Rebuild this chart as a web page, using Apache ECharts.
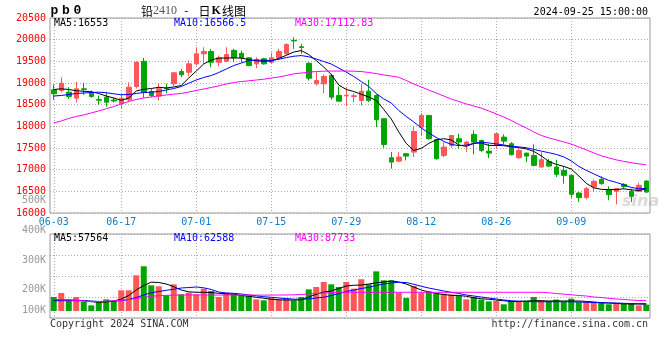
<!DOCTYPE html>
<html><head><meta charset="utf-8">
<script src="https://cdn.jsdelivr.net/npm/echarts@6/dist/echarts.min.js"></script>
<style>html,body{margin:0;padding:0;background:#fff}#c{width:660px;height:360px}</style>
</head><body><div id="c"></div>
<script>
const dates = ['06-03','06-04','06-05','06-06','06-07','06-11','06-12','06-13','06-14','06-17','06-18','06-19','06-20','06-21','06-24','06-25','06-26','06-27','06-28','07-01','07-02','07-03','07-04','07-05','07-08','07-09','07-10','07-11','07-12','07-15','07-16','07-17','07-18','07-19','07-22','07-23','07-24','07-25','07-26','07-29','07-30','07-31','08-01','08-02','08-05','08-06','08-07','08-08','08-09','08-12','08-13','08-14','08-15','08-16','08-19','08-20','08-21','08-22','08-23','08-26','08-27','08-28','08-29','08-30','09-02','09-03','09-04','09-05','09-06','09-09','09-10','09-11','09-12','09-13','09-18','09-19','09-20','09-23','09-24','09-25'];
const tickLabels = ['06-03','06-17','07-01','07-15','07-29','08-12','08-26','09-09'];
const volTickLabels = ['500K','400K','300K','200K','100K'];
const symbolChars = ['p','b','0'];

const opens  = [18843,18827,18788,18650,18866,18774,18620,18673,18608,18521, 18613,18919,19500,18804,18696,18885,18981,19265,19249,19442, 19673,19726,19479,19502,19749,19686,19580,19442,19557,19479, 19580,19673,19986,19836,19456,18981,18981,19173,18712,18705, 18689,18597,18811,18712,18175,17276,17198,17368,17405,17981, 18251,17691,17329,17560,17714,17583,17813,17675,17428,17560, 17751,17599,17276,17382,17329,17060,17191,17060,16984,16869, 16461,16355,16599,16776,16539,16500,16661,16500,16500,16737];
const closes = [18751,18995,18689,18866,18850,18689,18603,18557,18585,18650, 18903,19479,18780,18712,18866,18873,19235,19189,19442,19673, 19726,19479,19580,19656,19580,19580,19403,19541,19442,19580, 19726,19887,19972,19818,19110,19057,19150,18673,18580,18719, 18705,18811,18597,18152,17583,17175,17290,17313,17882,18251, 17714,17253,17521,17790,17636,17636,17636,17445,17382,17829, 17659,17345,17445,17313,17099,17230,17083,16892,16869,16431, 16355,16562,16730,16677,16424,16562,16608,16385,16638,16484];
const lows   = [18613,18781,18636,18551,18728,18659,18498,18452,18551,18405, 18557,18873,18659,18673,18597,18765,18926,19133,19157,19403, 19442,19364,19387,19479,19479,19479,19387,19341,19426,19442, 19534,19650,19788,19673,19057,18942,18765,18613,18580,18458, 18557,18481,18557,17981,17507,17023,17175,17214,17290,17790, 17691,17230,17290,17507,17484,17405,17357,17405,17267,17484, 17583,17329,17253,17175,17076,17060,17060,16829,16677,16355, 16253,16316,16484,16654,16293,16200,16562,16253,16500,16461];
const highs  = [18965,19133,18903,19030,19005,18827,18712,18781,18666,18751, 19018,19500,19581,18866,18995,18981,19249,19327,19518,19825, 19825,19788,19633,19825,19788,19749,19594,19594,19580,19696, 19788,19917,20055,19903,19479,19249,19196,19212,18919,18889, 18765,18981,19073,18735,18182,17405,17405,17382,17998,18304, 18258,17714,17636,17790,17829,17659,17906,17691,17599,17843, 17813,17636,17521,17387,17583,17405,17253,17230,17076,16892, 16484,16599,16776,16845,16615,16576,16691,16562,16700,16753];

const ma5  = [18850,18866,18850,18822,18809,18797,18758,18700,18654,18601, 18654,18815,18855,18873,18901,18885,18908,18942,19115,19276, 19438,19530,19576,19576,19580,19576,19541,19511,19502,19507, 19569,19638,19714,19749,19656,19518,19368,19196,18954,18850, 18804,18739,18677,18597,18389,18170,17871,17606,17445,17491, 17606,17687,17714,17687,17571,17537,17606,17617,17560,17560, 17553,17530,17509,17479,17422,17318,17191,17122,17076,17014, 16857,16684,16581,16546,16539,16541,16558,16535,16520,16553];
const ma10 = [18700,18712,18735,18758,18769,18781,18788,18776,18751,18728, 18735,18758,18781,18788,18804,18838,18873,18919,18995,19069, 19127,19173,19242,19322,19403,19461,19514,19530,19525,19518, 19548,19587,19617,19633,19606,19553,19495,19438,19345,19253, 19150,19034,18919,18758,18631,18539,18366,18228,18101,17963, 17848,17744,17652,17583,17555,17567,17606,17636,17617,17594, 17571,17541,17525,17507,17468,17428,17392,17352,17295,17203, 17076,16984,16903,16823,16753,16707,16650,16590,16560,16566.5];
const ma30 = [18078,18124,18182,18228,18263,18309,18355,18405,18458,18516, 18574,18620,18654,18677,18705,18723,18742,18758,18792,18827, 18862,18896,18935,18977,19011,19034,19050,19069,19087,19115, 19138,19173,19212,19230,19249,19265,19272,19276,19276,19276, 19272,19265,19242,19219,19184,19161,19131,19057,18977,18908, 18838,18769,18700,18631,18574,18516,18470,18419,18355,18286, 18216,18136,18044,17963,17871,17790,17733,17687,17640,17590, 17525,17456,17387,17318,17272,17226,17191,17161,17134,17112.83];

const volumes = [119000,153000,97000,119000,77000,48000,77000,99000,85000,176000, 176000,303000,380000,218000,210000,133000,227000,142000,156000,142000, 190000,170000,119000,156000,147000,133000,128000,99000,91000,111000, 99000,105000,91000,119000,184000,204000,247000,227000,204000,247000, 190000,270000,227000,337000,261000,261000,156000,111000,213000,156000, 167000,147000,147000,139000,128000,99000,119000,97000,82000,85000, 57000,85000,85000,82000,119000,91000,85000,97000,77000,105000, 75000,77000,77000,68000,57000,59000,60000,68000,48000,54000];
const volMa5 = [93500,93500,93500,91000,87600,79000,74000,76500,85000,102000, 132000,178500,217000,245000,242000,229500,206500,178500,163000,159000, 159000,157000,150500,146000,142000,132000,125000,116500,109000,99500, 95000,93500,93500,95000,119000,142000,161500,170000,191000,212500, 218500,221000,229500,240000,246500,255000,246500,229500,204000,178500, 161500,149000,140000,133500,132000,125000,113000,104000,99500,93500, 87000,81000,81000,85000,87500,87000,85000,85000,85000,85000, 85000,81000,76500,70500,68000,64000,61000,59500,59500,57564];
const volMa10 = [87500,87500,87500,87500,87000,85000,81000,81000,85000,87500, 98000,115000,136000,155500,166000,176000,184500,195500,199500,204000, 197000,183000,161500,153000,150500,144500,136000,129000,121500,116500, 110500,105500,101000,99500,103500,110500,117000,132000,147000,166000, 178500,191000,201500,217000,229500,238000,244000,242000,227000,210000, 195500,183000,170000,159000,149000,136000,127500,119000,110500,102000, 93500,87000,83500,81000,79000,79000,79000,79000,79000,78000, 76500,75000,72000,70500,69000,68000,65500,63000,62000,62588];
const volMa30 = [99500,95000,93500,89000,85000,81000,81000,83500,87000,91000, 98000,106000,115000,126000,130000,133500,134500,136000,136500,136000, 136000,135500,135500,136000,136000,135500,135500,135000,135000,135500, 136000,136000,138000,140000,145000,149000,153000,157000,159000,159000, 159000,159000,159000,159000,159000,159000,159000,159000,159000,159000, 159000,159000,159000,159000,159000,159000,159000,159000,159000,159000, 159000,159000,159000,159000,159000,159000,155000,149000,143000,138000, 132000,127500,119000,115000,108000,102000,98000,93500,89000,87733];

const UP = '#ff5757', DOWN = '#00a600';
const MONO = '"DejaVu Sans Mono", "Liberation Mono", monospace';
const GRIDC = '#aaaaaa';
const last = a => a[a.length - 1];

const chart = echarts.init(document.getElementById('c'), null, {renderer: 'canvas'});
const showTick = (i, v) => tickLabels.indexOf(v) >= 0;
const xBase = {
  type: 'category', data: dates, boundaryGap: true,
  axisLine: {show: false}, axisTick: {show: false},
  splitLine: {show: true, interval: showTick, alignWithLabel: true, lineStyle: {color: GRIDC, type: [1, 2], width: 1}}
};
const lineS = (name, data, color, xi, yi) => ({
  name, type: 'line', data, xAxisIndex: xi, yAxisIndex: yi, symbol: 'none', smooth: false,
  lineStyle: {color, width: 1}, itemStyle: {color}, z: 5, silent: true
});

const txt = (x, y, text, fill, align, font) => ({
  type: 'text', x, y, silent: true, z: 100,
  style: {text, fill, font: font || ('10px ' + MONO), align: align || 'left', verticalAlign: 'middle'}
});

const volLabelY = [200, 230, 260.5, 289, 310];
const symbolX = [54.5, 66, 77.5];

chart.setOption({
  animation: false,
  backgroundColor: '#fff',
  grid: [
    {left: 50, top: 18, width: 600, height: 195, show: true, borderColor: '#999', borderWidth: 1, backgroundColor: 'transparent'},
    {left: 50, top: 234, width: 600, height: 84, show: true, borderColor: '#999', borderWidth: 1, backgroundColor: 'transparent'}
  ],
  xAxis: [
    Object.assign({}, xBase, {gridIndex: 0,
      axisLabel: {show: true, interval: showTick, color: '#0a7fcc', fontSize: 10, fontFamily: MONO, margin: 4}}),
    Object.assign({}, xBase, {gridIndex: 1, axisLabel: {show: false}})
  ],
  yAxis: [
    {type: 'value', gridIndex: 0, min: 16000, max: 20500, interval: 500,
     axisLine: {show: false}, axisTick: {show: false},
     axisLabel: {color: '#ff0000', fontSize: 10, fontFamily: MONO, margin: 4, padding: [0, 0, 4, 0],
                 showMinLabel: true, showMaxLabel: true, formatter: v => String(v)},
     splitLine: {show: true, lineStyle: {color: GRIDC, type: [1, 2], width: 1}}},
    {type: 'value', gridIndex: 1, min: -59500, max: 654500, show: false},
    {type: 'value', gridIndex: 1, min: 0, max: 4, interval: 1, inverse: true,
     axisLine: {show: false}, axisTick: {show: false}, axisLabel: {show: false},
     splitLine: {show: true, lineStyle: {color: GRIDC, type: [1, 2], width: 1}}}
  ],
  series: [
    {type: 'candlestick', xAxisIndex: 0, yAxisIndex: 0, barWidth: 5,
     data: opens.map((o, i) => [o, closes[i], lows[i], highs[i]]),
     itemStyle: {color: UP, color0: DOWN, borderColor: UP, borderColor0: DOWN, borderWidth: 1}, z: 3},
    lineS('MA5', ma5, '#000000', 0, 0),
    lineS('MA10', ma10, '#0000ff', 0, 0),
    lineS('MA30', ma30, '#ff00ff', 0, 0),
    {type: 'bar', xAxisIndex: 1, yAxisIndex: 1, barWidth: 6,
     data: volumes.map((v, i) => ({value: v, itemStyle: {color: closes[i] >= opens[i] ? UP : DOWN}})), z: 3},
    lineS('VMA5', volMa5, '#000000', 1, 1),
    lineS('VMA10', volMa10, '#0000ff', 1, 1),
    lineS('VMA30', volMa30, '#ff00ff', 1, 1)
  ],
  graphic: [
    {type: 'text', x: 622, y: 202, silent: true, z: 1,
     style: {text: 'sina', fill: 'rgba(150,150,150,0.35)', font: 'italic bold 16px "DejaVu Sans", sans-serif', align: 'left', verticalAlign: 'middle'}},
    ...symbolChars.map((ch, i) => txt(symbolX[i], 11, ch, '#000', 'center', 'bold 13px "Liberation Mono", monospace')),
    {type: 'text', x: 141, y: 11, silent: true, z: 100,
     style: {text: '{a|铅}{n|2410}{d|-}{a|日}{k|K}{a|线图}', verticalAlign: 'middle', align: 'left',
       rich: {
         a: {fontFamily: '"Noto Sans CJK SC"', fontSize: 12, fill: '#000'},
         n: {fontFamily: '"Liberation Serif", serif', fontSize: 12, fill: '#555'},
         d: {fontFamily: MONO, fontSize: 11, fill: '#000', padding: [0, 9, 0, 6]},
         k: {fontFamily: '"Liberation Serif", serif', fontSize: 12, fontWeight: 'bold', fill: '#000', padding: [0, 1, 0, 1]}
       }}},
    txt(648, 12, '2024-09-25 15:00:00', '#000', 'right'),
    txt(54, 23.5, 'MA5:' + last(ma5), '#000000'),
    txt(174, 23.5, 'MA10:' + last(ma10), '#0000ff'),
    txt(295, 23.5, 'MA30:' + last(ma30), '#ff00ff'),
    txt(54, 238.5, 'MA5:' + last(volMa5), '#000000'),
    txt(174, 238.5, 'MA10:' + last(volMa10), '#0000ff'),
    txt(295, 238.5, 'MA30:' + last(volMa30), '#ff00ff'),
    ...volTickLabels.map((t, i) => txt(46, volLabelY[i], t, '#999999', 'right')),
    txt(50, 324, 'Copyright 2024 SINA.COM', '#333333', 'left'),
    txt(648, 324, 'http://finance.sina.com.cn', '#333333', 'right')
  ]
});
</script>
</body></html>
